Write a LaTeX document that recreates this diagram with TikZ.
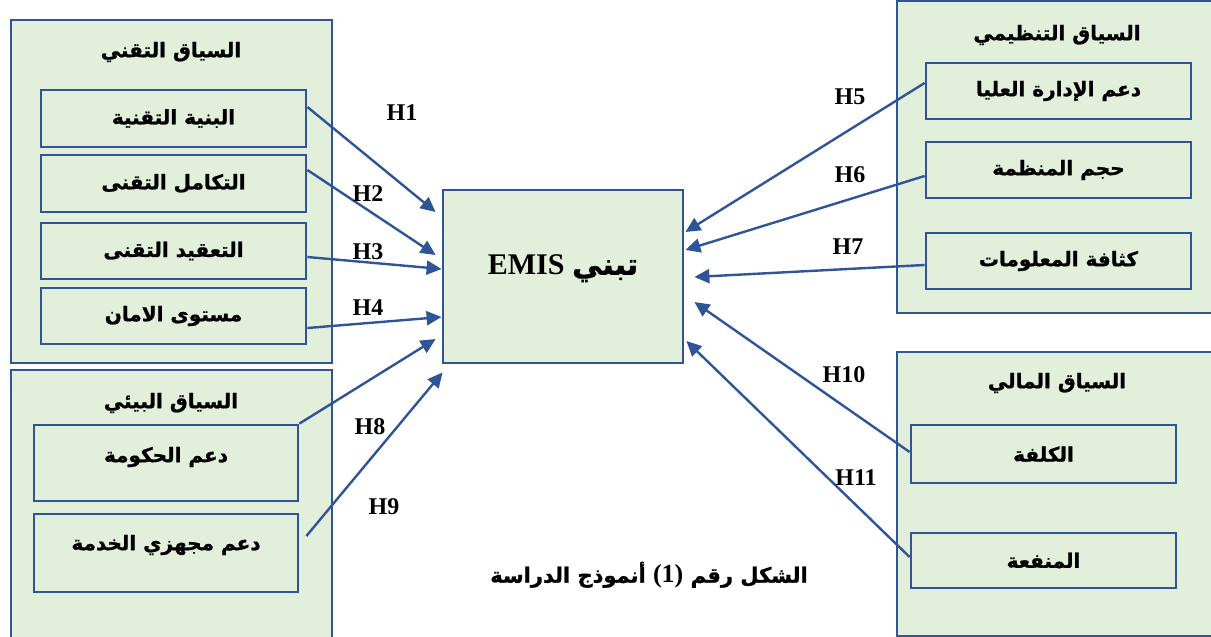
\documentclass[tikz,border=0pt]{standalone}
\usepackage{fontspec}
\setmainfont{Liberation Serif}
\newfontfamily\arabicfont[Script=Arabic, BoldFeatures={FakeBold=1.2}]{DejaVu Sans}
\TeXXeTstate=1
\usetikzlibrary{arrows.meta,calc}
\definecolor{boxfill}{HTML}{E2EFDA}
\definecolor{boxline}{HTML}{2F5597}
\newcommand\artxt[1]{{\arabicfont\bfseries\beginR #1\endR}}
\begin{document}
\begin{tikzpicture}[x=1pt,y=-1pt,
  outerbox/.style={draw=boxline, fill=boxfill, line width=2.8pt, inner sep=0pt},
  innerbox/.style={draw=boxline, fill=boxfill, line width=2.8pt, inner sep=0pt,
     minimum width=265pt, minimum height=57pt, font=\fontsize{20}{24}\selectfont},
  titletxt/.style={inner sep=0pt, font=\fontsize{20}{24}\selectfont},
  hlabel/.style={inner sep=0pt, font=\fontsize{24}{28}\selectfont\bfseries},
  arr/.style={draw=boxline, line width=2.4pt, -{Triangle[length=15pt,width=14pt]}}
]
\useasboundingbox (0,0) rectangle (1211,637);

% outer context boxes
\node[outerbox, minimum width=321pt, minimum height=343pt] (tech) at (171.5,191.5) {};
\node[outerbox, minimum width=321pt, minimum height=290pt] (env) at (171.5,515) {};
\node[outerbox, minimum width=330pt, minimum height=312pt] (org) at (1062,157) {};
\node[outerbox, minimum width=330pt, minimum height=284pt] (fin) at (1062,494) {};

% titles
\node[titletxt] (techT) at (171,52) {\artxt{السياق التقني}};
\node[titletxt] (envT) at (171,403) {\artxt{السياق البيئي}};
\node[titletxt] (orgT) at (1057,35) {\artxt{السياق التنظيمي}};
\node[titletxt] (finT) at (1057,383) {\artxt{السياق المالي}};

% technical
\node[innerbox] (t1) at (173.5,118.5) {\artxt{البنية التقنية}};
\node[innerbox] (t2) at (173.5,183.5) {\artxt{التكامل التقنى}};
\node[innerbox, minimum height=56pt] (t3) at (173.5,251) {\artxt{التعقيد التقنى}};
\node[innerbox, minimum height=56pt] (t4) at (173.5,316) {\artxt{مستوى الامان}};

% environmental
\node[innerbox, minimum width=264pt, minimum height=76pt] (e1) at (166,463) {};
\node[titletxt] (e1t) at ([yshift=6pt]e1.center) {\artxt{دعم الحكومة}};
\node[innerbox, minimum width=264pt, minimum height=78pt] (e2) at (166,553) {};
\node[titletxt] (e2t) at ([yshift=8pt]e2.center) {\artxt{دعم مجهزي الخدمة}};

% organisational
\node[innerbox, minimum height=56pt] (o1) at (1058.5,91) {\artxt{دعم الإدارة العليا}};
\node[innerbox, minimum height=56pt] (o2) at (1058.5,170) {\artxt{حجم المنظمة}};
\node[innerbox, minimum height=56pt] (o3) at (1058.5,261) {\artxt{كثافة المعلومات}};

% financial
\node[innerbox, minimum height=58pt] (f1) at (1043.5,454) {\artxt{الكلفة}};
\node[innerbox, minimum height=55pt] (f2) at (1043.5,560.5) {\artxt{المنفعة}};

% central
\node[innerbox, minimum width=240pt, minimum height=173pt] (c) at (563,276.5) {};
\node[inner sep=0pt] (ct) at ([yshift=8pt]c.center) {\fontsize{30}{34}\selectfont\bfseries EMIS\ \artxt{تبني}};

% arrows
\draw[arr] ([yshift=11.5pt]t1.east) -- ([xshift=-6pt,yshift=64.5pt]c.west);
\draw[arr] ([yshift=13.5pt]t2.east) -- ([xshift=-6pt,yshift=21.5pt]c.west);
\draw[arr] ([yshift=-6pt]t3.east) -- ([yshift=7.5pt]c.west);
\draw[arr] ([yshift=-12pt]t4.east) -- ([yshift=-40.5pt]c.west);
\draw[arr] (e1.north east) -- ([xshift=-6pt,yshift=-62.5pt]c.west);
\draw[arr] ([xshift=7pt,yshift=17pt]e2.east) -- ([xshift=1pt,yshift=-8pt]c.south west);
\draw[arr] ([yshift=8pt]o1.west) -- ([xshift=1pt,yshift=44.5pt]c.east);
\draw[arr] ([yshift=-6pt]o2.west) -- ([xshift=1pt,yshift=26.5pt]c.east);
\draw[arr] ([yshift=-4pt]o3.west) -- ([xshift=10pt,yshift=-0.5pt]c.east);
\draw[arr] ([yshift=2pt]f1.west) -- ([xshift=10pt,yshift=-25.5pt]c.east);
\draw[arr] ([yshift=3.5pt]f2.west) -- ([xshift=2pt,yshift=-64.5pt]c.east);

% hypothesis labels
\node[hlabel] (h1) at (402,113) {H1};
\node[hlabel] (h2) at (368,194) {H2};
\node[hlabel] (h3) at (368,252) {H3};
\node[hlabel] (h4) at (368,308) {H4};
\node[hlabel] (h5) at (850,97) {H5};
\node[hlabel] (h6) at (850,175) {H6};
\node[hlabel] (h7) at (848,247) {H7};
\node[hlabel] (h8) at (370,427) {H8};
\node[hlabel] (h9) at (384,507) {H9};
\node[hlabel] (h10) at (844,375) {H10};
\node[hlabel] (h11) at (856,478) {H11};

% caption
\node[inner sep=0pt] (cap) at (649,575) {\fontsize{21}{24}\selectfont{\arabicfont\bfseries\beginR الشكل رقم \beginL{\rmfamily\bfseries\fontsize{26}{28}\selectfont(1)}\endL{} أنموذج الدراسة\endR}};
\end{tikzpicture}
\end{document}
